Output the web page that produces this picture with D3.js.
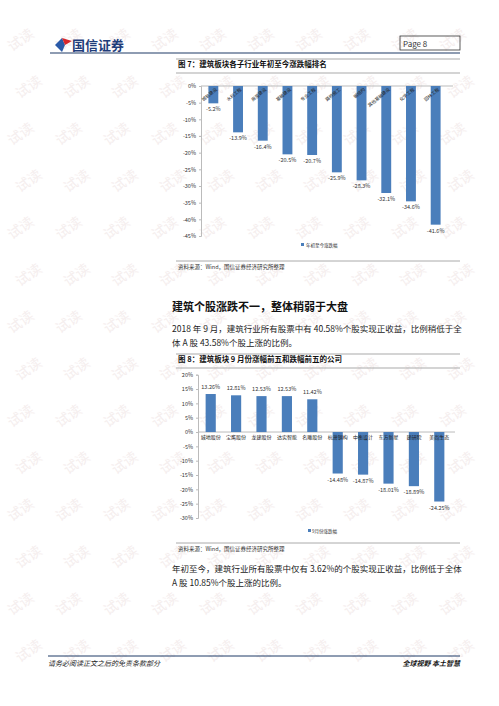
<!DOCTYPE html>
<html><head><meta charset="utf-8">
<script src="https://cdn.jsdelivr.net/npm/d3@7/dist/d3.min.js"></script>
<style>
html,body{margin:0;padding:0;background:#fff;}
svg{display:block;}
text{font-family:"Noto Sans CJK SC","Noto Sans",sans-serif;}
</style></head>
<body>
<svg id="page" width="499" height="706"></svg>
<script>
// ---------- data ----------
const chart1Title = "图 7：建筑板块各子行业年初至今涨跌幅排名";
const chart1Categories = ["城轨建设","水利工程","房屋建设","基础建设","专业工程","路桥施工","钢结构","其他基础建设","化学工程","园林工程"];
const chart1Values = [-5.2,-13.9,-16.4,-20.5,-20.7,-25.9,-28.3,-32.1,-34.6,-41.6];
const chart1Ticks = [0,-5,-10,-15,-20,-25,-30,-35,-40,-45];
const chart1Legend = "年初至今涨跌幅";

const chart2Title = "图 8：建筑板块 9 月份涨幅前五和跌幅前五的公司";
const chart2Categories = ["城地股份","宝鹰股份","龙建股份","达实智能","名雕股份","杭萧钢构","中衡设计","东方新星","建研院","美尚生态"];
const chart2Values = [13.26,12.81,12.53,12.53,11.42,-14.48,-14.87,-18.01,-18.89,-24.25];
const chart2Ticks = [20,15,10,5,0,-5,-10,-15,-20,-25,-30];
const chart2Legend = "9月份涨跌幅";

const sourceText = "资料来源：Wind，国信证券经济研究所整理";
const heading = "建筑个股涨跌不一，整体稍弱于大盘";
const para1 = ["2018 年 9 月，建筑行业所有股票中有 40.58%个股实现正收益，比例稍低于全","体 A 股 43.58%个股上涨的比例。"];
const para2 = ["年初至今，建筑行业所有股票中仅有 3.62%的个股实现正收益，比例低于全体","A 股 10.85%个股上涨的比例。"];

const BAR = "#4a7ebb";
const svg = d3.select("#page");

// ---------- watermark ----------
const wm = svg.append("g");
for (let r = 0; r < 14; r++) {
  for (let c = 0; c < 10; c++) {
    const x = 12 + c * 48 + (r % 2) * 8, y = 52 + r * 47;
    wm.append("text").attr("x", x).attr("y", y)
      .attr("transform", `rotate(-35,${x},${y})`)
      .attr("font-size", 14).attr("fill", "#f5eeee").text("试读");
  }
}

// ---------- header ----------
svg.append("path").attr("d","M55,45 L62,38 L65,45 L62,52 Z").attr("fill","#2a5aa8");
svg.append("path").attr("d","M62,38 L72,41 L65,45 Z").attr("fill","#d8262a");
svg.append("text").attr("x",72).attr("y",50).attr("font-size",13).attr("font-weight","bold")
  .attr("fill","#1f3d7a").attr("font-family","Noto Serif CJK SC,Noto Sans CJK SC").text("国信证券");
svg.append("line").attr("x1",50).attr("x2",460).attr("y1",53).attr("y2",53).attr("stroke","#1f3a66").attr("stroke-width",1.2);
svg.append("rect").attr("x",400).attr("y",36).attr("width",60).attr("height",14).attr("fill","none").attr("stroke","#333").attr("stroke-width",0.8);
svg.append("text").attr("x",403).attr("y",46.5).attr("font-size",8).attr("fill","#333").attr("font-family","Liberation Sans,Arial").text("Page   8");

function titleBlock(y, t) {
  svg.append("line").attr("x1",176).attr("x2",460).attr("y1",y-8).attr("y2",y-8).attr("stroke","#aaa").attr("stroke-width",1.2);
  svg.append("text").attr("x",178).attr("y",y).attr("font-size",7.5).attr("font-weight","bold").attr("fill","#111").text(t);
  svg.append("line").attr("x1",176).attr("x2",460).attr("y1",y+6).attr("y2",y+6).attr("stroke","#aaa").attr("stroke-width",1.2);
}
function sourceBlock(y) {
  svg.append("line").attr("x1",176).attr("x2",460).attr("y1",y-5).attr("y2",y-5).attr("stroke","#aaa").attr("stroke-width",1);
  svg.append("text").attr("x",178).attr("y",y+3).attr("font-size",5.5).attr("fill","#333").text(sourceText);
}
const pct = d => d + "%";

// ---------- chart 1 ----------
titleBlock(67, chart1Title);
{
  const x = d3.scaleBand().domain(chart1Categories).range([201, 448]).paddingInner(0.6).paddingOuter(0.3);
  const y = d3.scaleLinear().domain([-45, 0]).range([236, 86]);
  const g = svg.append("g");
  g.append("line").attr("x1",201).attr("x2",453).attr("y1",y(0)).attr("y2",y(0)).attr("stroke","#bbb").attr("stroke-width",1);
  const ax = g.append("g").attr("transform","translate(201,0)")
    .call(d3.axisLeft(y).tickValues(chart1Ticks).tickFormat(pct).tickSize(2).tickPadding(3));
  ax.select(".domain").attr("stroke","#bbb");
  ax.selectAll(".tick line").attr("stroke","#bbb");
  ax.selectAll("text").attr("font-size",5.5).attr("fill","#333").attr("font-family","Liberation Sans,Arial");
  g.selectAll("rect.b").data(chart1Values).enter().append("rect")
    .attr("x",(d,i)=>x(chart1Categories[i])).attr("width",x.bandwidth())
    .attr("y",y(0)).attr("height",d=>y(d)-y(0)).attr("fill",BAR);
  g.selectAll("text.v").data(chart1Values).enter().append("text")
    .attr("x",(d,i)=>x(chart1Categories[i])+x.bandwidth()/2).attr("y",d=>y(d)+8)
    .attr("text-anchor","middle").attr("font-size",5.5).attr("fill","#333").attr("font-family","Liberation Sans,Arial")
    .text(d=>d.toFixed(1)+"%");
  g.selectAll("text.c").data(chart1Categories).enter().append("text")
    .attr("transform",(d)=>{const cx=x(d)+x.bandwidth()/2+4, cy=y(0)+4;return `translate(${cx},${cy}) rotate(-40)`;})
    .attr("text-anchor","end").attr("font-size",4.5).attr("fill","#222").text(d=>d);
  const lg = g.append("g").attr("transform","translate(301,246)");
  lg.append("rect").attr("x",0).attr("y",-3).attr("width",3).attr("height",3).attr("fill",BAR);
  lg.append("text").attr("x",5).attr("y",0.5).attr("font-size",4.5).attr("fill","#333").text(chart1Legend);
}
sourceBlock(266);

// ---------- text section ----------
svg.append("text").attr("x",172).attr("y",311).attr("font-size",11).attr("font-weight","bold").attr("fill","#111").text(heading);
para1.forEach((t,i)=>svg.append("text").attr("x",172).attr("y",332+i*14).attr("font-size",8.5).attr("fill","#222").text(t));

// ---------- chart 2 ----------
titleBlock(362, chart2Title);
{
  const x = d3.scaleBand().domain(chart2Categories).range([198, 452]).paddingInner(0.6).paddingOuter(0.3);
  const y = d3.scaleLinear().domain([-30, 20]).range([518, 374.7]);
  const g = svg.append("g");
  g.append("line").attr("x1",198).attr("x2",455).attr("y1",y(0)).attr("y2",y(0)).attr("stroke","#bbb").attr("stroke-width",1);
  const ax = g.append("g").attr("transform","translate(198,0)")
    .call(d3.axisLeft(y).tickValues(chart2Ticks).tickFormat(pct).tickSize(2).tickPadding(3));
  ax.select(".domain").attr("stroke","#bbb");
  ax.selectAll(".tick line").attr("stroke","#bbb");
  ax.selectAll("text").attr("font-size",5.5).attr("fill","#333").attr("font-family","Liberation Sans,Arial");
  g.selectAll("rect.b").data(chart2Values).enter().append("rect")
    .attr("x",(d,i)=>x(chart2Categories[i])).attr("width",x.bandwidth())
    .attr("y",d=>y(Math.max(0,d))).attr("height",d=>Math.abs(y(d)-y(0))).attr("fill",BAR);
  g.selectAll("text.v").data(chart2Values).enter().append("text")
    .attr("x",(d,i)=>x(chart2Categories[i])+x.bandwidth()/2).attr("y",d=>d>=0?y(d)-5:y(d)+8)
    .attr("text-anchor","middle").attr("font-size",5.5).attr("fill","#333").attr("font-family","Liberation Sans,Arial")
    .text(d=>d.toFixed(2)+"%");
  g.selectAll("text.c").data(chart2Categories).enter().append("text")
    .attr("x",d=>x(d)+x.bandwidth()/2).attr("y",y(0)+7)
    .attr("text-anchor","middle").attr("font-size",5).attr("fill","#222").text(d=>d);
  const lg = g.append("g").attr("transform","translate(308,532)");
  lg.append("rect").attr("x",0).attr("y",-3).attr("width",3).attr("height",3).attr("fill",BAR);
  lg.append("text").attr("x",4).attr("y",0.5).attr("font-size",4.5).attr("fill","#333").text(chart2Legend);
}
sourceBlock(548);
para2.forEach((t,i)=>svg.append("text").attr("x",172).attr("y",572+i*14).attr("font-size",8.5).attr("fill","#222").text(t));

// ---------- footer ----------
svg.append("line").attr("x1",48).attr("x2",460).attr("y1",656).attr("y2",656).attr("stroke","#1f3a66").attr("stroke-width",1);
svg.append("text").attr("x",48).attr("y",666).attr("font-size",7).attr("font-style","italic").attr("fill","#222").text("请务必阅读正文之后的免责条款部分");
svg.append("text").attr("x",460).attr("y",666).attr("text-anchor","end").attr("font-size",7).attr("font-weight","bold").attr("font-style","italic").attr("fill","#111").text("全球视野   本土智慧");
</script>
</body></html>
